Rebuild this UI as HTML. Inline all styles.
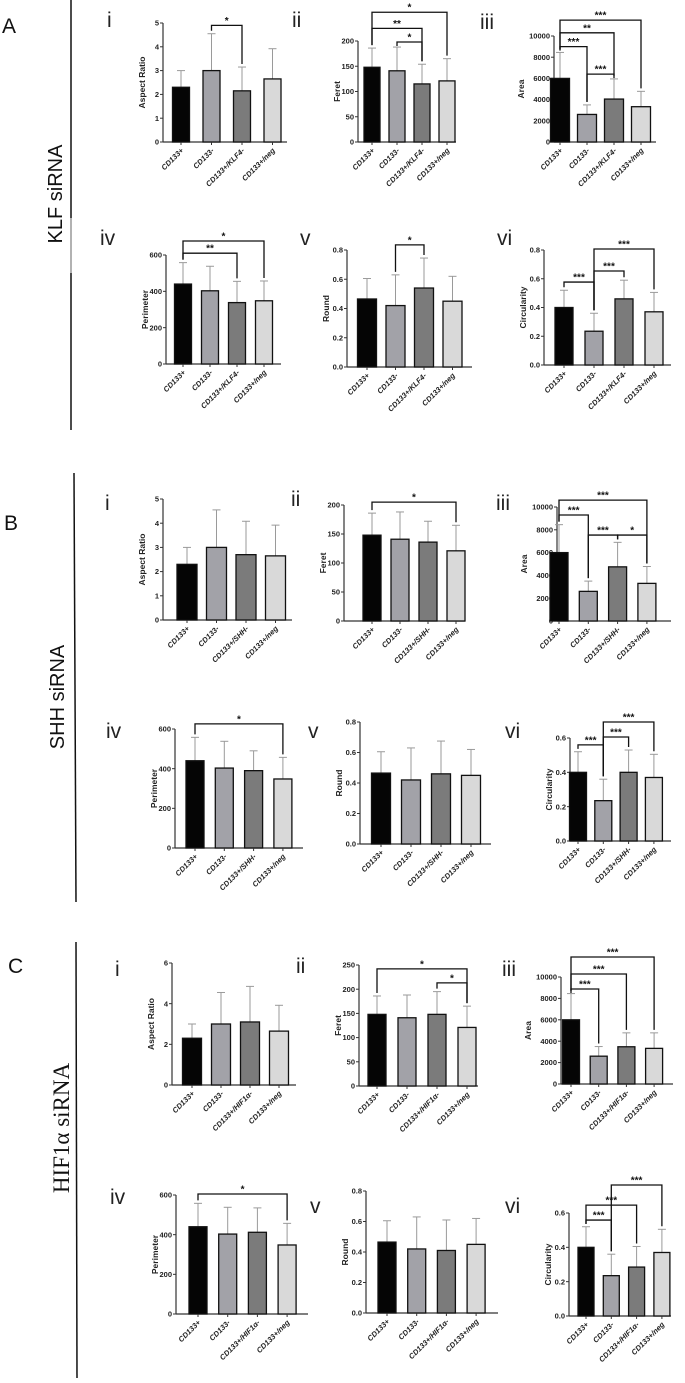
<!DOCTYPE html>
<html><head><meta charset="utf-8"><style>
html,body{margin:0;padding:0;background:#fff;}
svg{display:block;}
text{font-family:"Liberation Sans",Arial,sans-serif;}
.tick{font-size:7.5px;font-weight:bold;fill:#222;}
.xl{font-size:7.5px;font-weight:bold;font-style:italic;fill:#222;}
.ttl{font-size:8.5px;font-weight:bold;fill:#222;}
.rl{font-size:21px;fill:#222;}
.sec{font-size:21px;fill:#111;}
.star{font-size:10px;font-weight:bold;fill:#111;}
</style></head><body>
<svg id="fig" width="685" height="1383" viewBox="0 0 685 1383" xmlns="http://www.w3.org/2000/svg">
<g>
<text class="sec" x="2" y="33">A</text>
<line x1="71" y1="0" x2="71" y2="218" stroke="#111" stroke-width="1.5"/>
<line x1="71" y1="218" x2="71" y2="273" stroke="#999" stroke-width="1.5"/>
<line x1="71" y1="273" x2="71" y2="430" stroke="#111" stroke-width="1.5"/>
<text x="0" y="0" font-size="20" fill="#111" text-anchor="middle" transform="translate(62,194) rotate(-90)">KLF siRNA</text>
</g>
<g>
<text class="sec" x="4" y="530">B</text>
<line x1="74" y1="473" x2="76" y2="902" stroke="#111" stroke-width="1.5"/>
<text x="0" y="0" font-size="20" fill="#111" text-anchor="middle" transform="translate(64,697) rotate(-90)">SHH siRNA</text>
</g>
<g>
<text class="sec" x="8" y="973">C</text>
<line x1="76" y1="942" x2="77" y2="1378" stroke="#111" stroke-width="1.5"/>
<text x="0" y="0" font-size="23" fill="#111" text-anchor="middle" style="font-family:'Liberation Serif',serif" transform="translate(69,1128) rotate(-90)">HIF1α siRNA</text>
</g>
</svg>
<script>
const catsKLF = ["CD133+","CD133-","CD133+/KLF4-","CD133+/neg"];
const catsSHH = ["CD133+","CD133-","CD133+/SHH-","CD133+/neg"];
const catsHIF = ["CD133+","CD133-","CD133+/HIF1\u03b1-","CD133+/neg"];

const aiMean=[2.3,3.0,2.15,2.65], aiErr=[3.0,4.55,3.15,3.92], aiSig=[[1,2,4.9,"*"]];
const aiiMean=[148,141,115,121], aiiErr=[186,188,154,165], aiiSig=[[0,3,257,"*"],[0,2,225,"**"],[1,2,198,"*"]];
const aiiiMean=[6000,2600,4050,3330], aiiiErr=[8450,3500,5950,4780], aiiiSig=[[0,3,11500,"***"],[0,2,10300,"**"],[0,1,9000,"***"],[1,2,6400,"***"]];
const aivMean=[440,403,338,348], aivErr=[558,538,455,457], aivSig=[[0,3,677,"*"],[0,2,610,"**"]];
const avMean=[0.465,0.42,0.54,0.45], avErr=[0.605,0.63,0.745,0.62], avSig=[[1,2,0.835,"*"]];
const aviMean=[0.40,0.235,0.46,0.37], aviErr=[0.52,0.36,0.59,0.505], aviSig=[[1,3,0.807,"***"],[1,2,0.654,"***"],[0,1,0.577,"***"]];

const biMean=[2.3,3.0,2.7,2.65], biErr=[3.0,4.55,4.08,3.92], biSig=[];
const biiMean=[148,141,136,121], biiErr=[186,188,172,165], biiSig=[[0,3,205,"*"]];
const biiiMean=[6000,2600,4750,3300], biiiErr=[8450,3500,6900,4780], biiiSig=[[0,3,10600,"***"],[0,1,9300,"***"],[1,2,7540,"***"],[2,3,7540,"*"]];
const bivMean=[440,403,390,348], bivErr=[558,538,490,457], bivSig=[[0,3,626,"*"]];
const bvMean=[0.465,0.42,0.46,0.45], bvErr=[0.605,0.63,0.675,0.62], bvSig=[];
const bviMean=[0.40,0.235,0.40,0.37], bviErr=[0.52,0.36,0.53,0.505], bviSig=[[1,3,0.693,"***"],[1,2,0.606,"***"],[0,1,0.56,"***"]];

const ciMean=[2.3,3.0,3.1,2.65], ciErr=[3.0,4.55,4.85,3.92], ciSig=[];
const ciiMean=[148,141,148,121], ciiErr=[186,188,195,165], ciiSig=[[0,3,242,"*"],[2,3,213,"*"]];
const ciiiMean=[6000,2600,3480,3330], ciiiErr=[8450,3500,4780,4780], ciiiSig=[[0,3,11870,"***"],[0,2,10280,"***"],[0,1,8880,"***"]];
const civMean=[440,403,412,348], civErr=[558,538,535,457], civSig=[[0,3,605,"*"]];
const cvMean=[0.465,0.42,0.41,0.45], cvErr=[0.605,0.63,0.61,0.62], cvSig=[];
const cviMean=[0.40,0.235,0.285,0.37], cviErr=[0.52,0.36,0.405,0.505], cviSig=[[1,3,0.763,"***"],[0,2,0.646,"***"],[0,1,0.559,"***"]];

const barFill=["#050505","#a2a2a8","#7b7b7b","#d9d9d9"];
const NS="http://www.w3.org/2000/svg";
const svg=document.getElementById("fig");

const panels=[
 {id:"a-i",lab:"i",lx:107,ly:27,ax:163,ae:287,yT:23,yB:142,max:5,step:1,cx0:181,dx:30.5,bw:17,title:"Aspect Ratio",cats:catsKLF,m:aiMean,e:aiErr,s:aiSig},
 {id:"a-ii",lab:"ii",lx:292,ly:27,ax:358,ae:456,yT:41,yB:142,max:200,step:50,cx0:372,dx:25,bw:16,title:"Feret",cats:catsKLF,m:aiiMean,e:aiiErr,s:aiiSig},
 {id:"a-iii",lab:"iii",lx:480,ly:29,ax:554,ae:656,yT:36,yB:142,max:10000,step:2000,cx0:560,dx:27,bw:19,title:"Area",cats:catsKLF,m:aiiiMean,e:aiiiErr,s:aiiiSig},
 {id:"a-iv",lab:"iv",lx:100,ly:245,ax:166,ae:281,yT:255,yB:364,max:600,step:200,cx0:183,dx:27,bw:17,title:"Perimeter",cats:catsKLF,m:aivMean,e:aivErr,s:aivSig},
 {id:"a-v",lab:"v",lx:300,ly:245,ax:347,ae:472,yT:250,yB:367,max:0.8,step:0.2,cx0:367,dx:28.5,bw:19,title:"Round",cats:catsKLF,m:avMean,e:avErr,s:avSig},
 {id:"a-vi",lab:"vi",lx:497,ly:245,ax:544,ae:671,yT:250,yB:365,max:0.8,step:0.2,cx0:564,dx:30,bw:18,title:"Circularity",cats:catsKLF,m:aviMean,e:aviErr,s:aviSig},

 {id:"b-i",lab:"i",lx:105,ly:510,ax:163,ae:292,yT:499,yB:620,max:5,step:1,cx0:187,dx:29.5,bw:20,title:"Aspect Ratio",cats:catsSHH,m:biMean,e:biErr,s:biSig},
 {id:"b-ii",lab:"ii",lx:291,ly:506,ax:344,ae:465,yT:505,yB:621,max:200,step:50,cx0:372,dx:28,bw:18,title:"Feret",cats:catsSHH,m:biiMean,e:biiErr,s:biiSig},
 {id:"b-iii",lab:"iii",lx:496,ly:510,ax:557,ae:671,yT:507,yB:621,max:10000,step:2000,cx0:559,dx:29.3,bw:18,title:"Area",cats:catsSHH,m:biiiMean,e:biiiErr,s:biiiSig},
 {id:"b-iv",lab:"iv",lx:106,ly:738,ax:175,ae:303,yT:729,yB:848,max:600,step:200,cx0:195,dx:29.3,bw:18,title:"Perimeter",cats:catsSHH,m:bivMean,e:bivErr,s:bivSig},
 {id:"b-v",lab:"v",lx:308,ly:738,ax:360,ae:491,yT:722,yB:844,max:0.8,step:0.2,cx0:381,dx:30,bw:19,title:"Round",cats:catsSHH,m:bvMean,e:bvErr,s:bvSig},
 {id:"b-vi",lab:"vi",lx:505,ly:738,ax:570,ae:671,yT:738,yB:841,max:0.6,step:0.2,cx0:578,dx:25.3,bw:17,title:"Circularity",cats:catsSHH,m:bviMean,e:bviErr,s:bviSig},

 {id:"c-i",lab:"i",lx:115,ly:976,ax:172,ae:296,yT:963,yB:1085,max:6,step:2,cx0:192,dx:29,bw:19,title:"Aspect Ratio",cats:catsHIF,m:ciMean,e:ciErr,s:ciSig},
 {id:"c-ii",lab:"ii",lx:296,ly:973,ax:359,ae:478,yT:965,yB:1086,max:250,step:50,cx0:377,dx:30,bw:18,title:"Feret",cats:catsHIF,m:ciiMean,e:ciiErr,s:ciiSig},
 {id:"c-iii",lab:"iii",lx:502,ly:976,ax:561,ae:673,yT:977,yB:1084,max:10000,step:2000,cx0:571,dx:27.7,bw:17,title:"Area",cats:catsHIF,m:ciiiMean,e:ciiiErr,s:ciiiSig},
 {id:"c-iv",lab:"iv",lx:110,ly:1204,ax:176,ae:308,yT:1195,yB:1314,max:600,step:200,cx0:198,dx:29.7,bw:18,title:"Perimeter",cats:catsHIF,m:civMean,e:civErr,s:civSig},
 {id:"c-v",lab:"v",lx:310,ly:1213,ax:366,ae:498,yT:1191,yB:1313,max:0.8,step:0.2,cx0:387,dx:29.7,bw:18,title:"Round",cats:catsHIF,m:cvMean,e:cvErr,s:cvSig},
 {id:"c-vi",lab:"vi",lx:505,ly:1213,ax:569,ae:671,yT:1213,yB:1316,max:0.6,step:0.2,cx0:586,dx:25.3,bw:16,title:"Circularity",cats:catsHIF,m:cviMean,e:cviErr,s:cviSig}
];

function mk(tag,attrs,parent){const el=document.createElementNS(NS,tag);for(const k in attrs)el.setAttribute(k,attrs[k]);parent.appendChild(el);return el;}

panels.forEach(p=>{
  const g=mk("g",{},svg);
  
  
  const y=v=>p.yB-(v/p.max)*(p.yB-p.yT);
  const x=i=>p.cx0+i*p.dx;
  const dec=p.step<1?1:0;
  // panel label
  const rl=mk("text",{class:"rl",x:p.lx,y:p.ly},g);rl.textContent=p.lab;
  
  
  // axes
  const ya=mk("line",{x1:p.ax,y1:p.yT,x2:p.ax,y2:p.yB,stroke:"#333","stroke-width":1.2},g);
  
  
  const xa=mk("line",{x1:p.ax,y1:p.yB,x2:p.ae,y2:p.yB,stroke:"#333","stroke-width":1.2},g);
  
  
  for(let v=0;v<=p.max+1e-9;v+=p.step){
    const ty=y(v);
    const tl=mk("line",{x1:p.ax-3,y1:ty,x2:p.ax,y2:ty,stroke:"#333","stroke-width":1},g);
    
    
    const tt=mk("text",{class:"tick",x:p.ax-4,y:ty+2.6,"text-anchor":"end"},g);
    tt.textContent=v.toFixed(dec);
    
    
  }
  // title
  const tcy=(p.yT+p.yB)/2, tcx=p.ax-(p.max>=1000?30:18);
  const ti=mk("text",{class:"ttl","text-anchor":"middle",transform:`translate(${tcx},${tcy}) rotate(-90)`},g);
  ti.textContent=p.title;
  
  
  // bars
  p.m.forEach((v,i)=>{
    const cx=x(i);
    const ey=y(p.e[i]);
    const el=mk("line",{x1:cx,y1:y(v),x2:cx,y2:ey,stroke:"#9a9a9a","stroke-width":1},g);
    
    
    const ec=mk("line",{x1:cx-4,y1:ey,x2:cx+4,y2:ey,stroke:"#9a9a9a","stroke-width":1},g);
    
    
    const r=mk("rect",{x:cx-p.bw/2,y:y(v),width:p.bw,height:p.yB-y(v),fill:barFill[i],stroke:"#111","stroke-width":1.3},g);
    
    
    const xt=mk("line",{x1:cx,y1:p.yB,x2:cx,y2:p.yB+3,stroke:"#333","stroke-width":1},g);
    
    
    const xl=mk("text",{class:"xl","text-anchor":"end",transform:`translate(${cx+3},${p.yB+9}) rotate(-45)`},g);
    xl.textContent=p.cats[i];
    
    
  });
  // significance brackets
  p.s.forEach(s=>{
    const [a,b,h,lab]=s;
    const by=y(h), xa1=x(a), xb1=x(b);
    const la=Math.max(by+4,y(p.e[a])-3), lb=Math.max(by+4,y(p.e[b])-3);
    const pl=mk("polyline",{points:`${xa1},${la} ${xa1},${by} ${xb1},${by} ${xb1},${lb}`,fill:"none",stroke:"#111","stroke-width":1.3},g);
    
    
    const st=mk("text",{class:"star","text-anchor":"middle",x:(xa1+xb1)/2,y:by-1.5},g);
    st.textContent=lab;
    
    
  });
});
</script>
</body></html>
